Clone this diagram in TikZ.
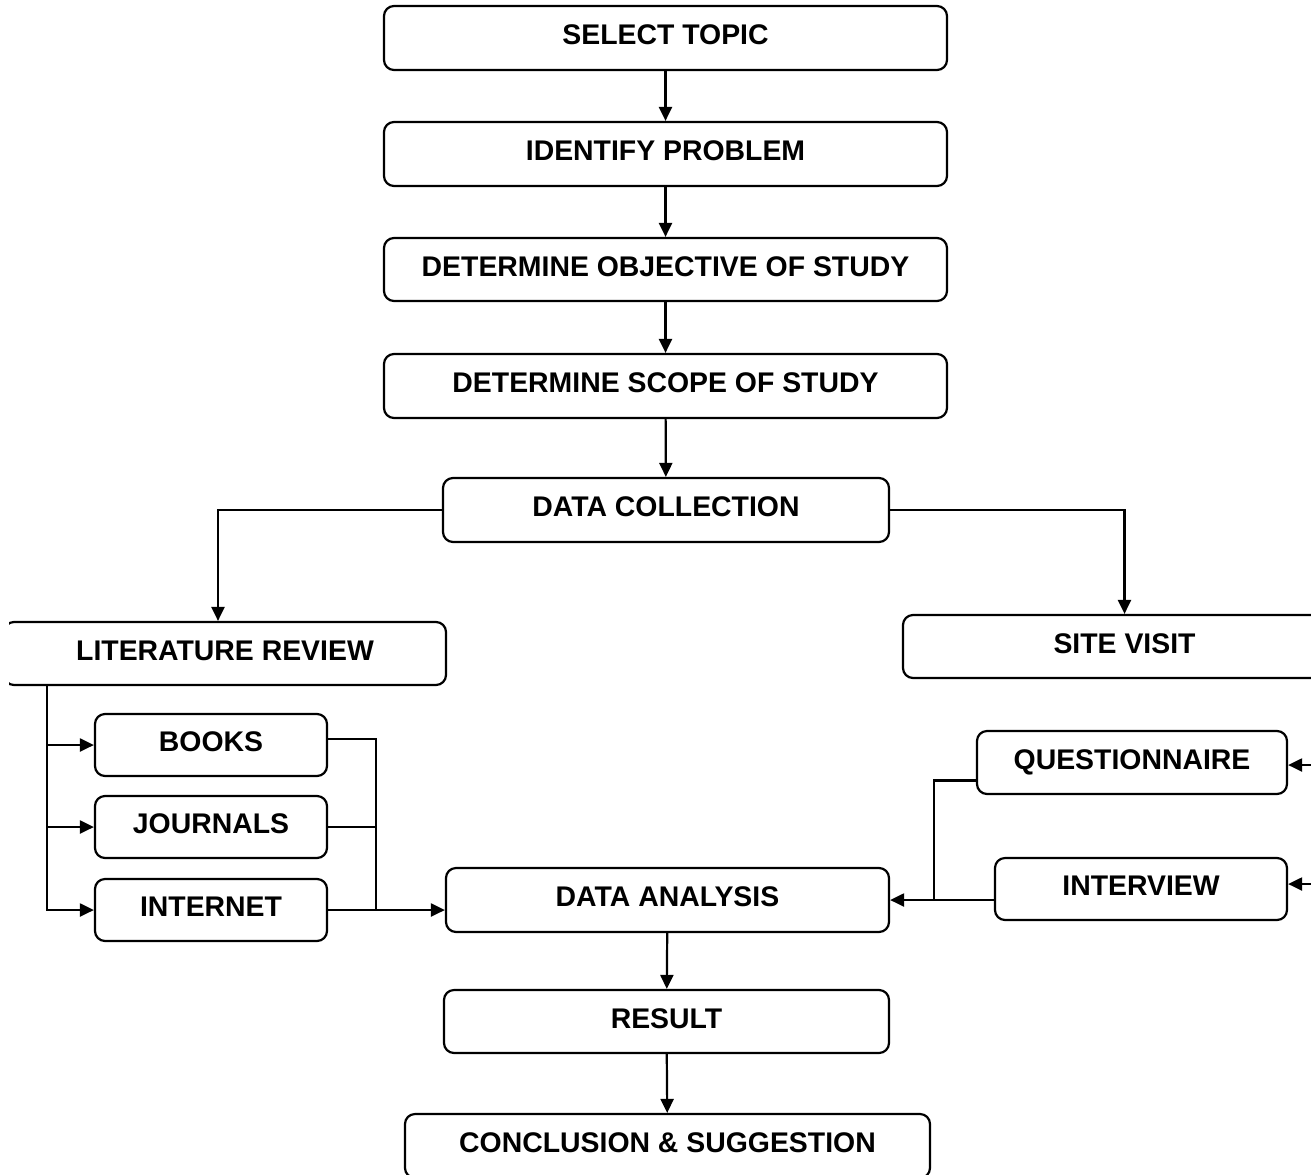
\documentclass[tikz,border=0pt]{standalone}
\usepackage{fontspec}
\setmainfont{Liberation Sans}
\usetikzlibrary{arrows.meta}
\tikzset{
  stage/.style={draw, rounded corners=5pt, line width=1.1pt, inner sep=0pt,
    font=\bfseries\fontsize{14.2}{17}\selectfont, text height=10.5pt, text depth=4pt},
  flow/.style={line width=1.1pt, -{Triangle[length=7pt,width=6.5pt]}},
  link/.style={line width=1.1pt}
}
\begin{document}
\begin{tikzpicture}[x=0.5pt,y=-0.5pt]
\useasboundingbox (0,0) rectangle (1311,1174) ;
\begin{scope}
\clip (9,0) rectangle (1311,1174) ;
 \node[stage, minimum width=281.5pt, minimum height=32pt] (topic)      at (665.5,  38) {SELECT TOPIC} ;
\node[stage, minimum width=281.5pt, minimum height=32pt] (problem)    at (665.5, 154) {IDENTIFY PROBLEM} ;
\node[stage, minimum width=281.5pt, minimum height=31.5pt] (objective) at (665.5, 269.5) {DETERMINE OBJECTIVE OF STUDY} ;
\node[stage, minimum width=281.5pt, minimum height=32pt] (scope)      at (665.5, 386) {DETERMINE SCOPE OF STUDY} ;
\node[stage, minimum width=223pt, minimum height=32pt] (collection)   at (666,   510) {DATA COLLECTION} ;
 \node[stage, minimum width=221pt, minimum height=31.5pt] (literature) at (225,  653.5) {LITERATURE REVIEW} ;
\node[stage, minimum width=221.5pt, minimum height=31.5pt] (sitevisit) at (1124.5, 646.5) {SITE VISIT} ;
 \node[stage, minimum width=116pt, minimum height=31pt] (books)        at (211,  745) {BOOKS} ;
\node[stage, minimum width=116pt, minimum height=31pt] (journals)     at (211,  827) {JOURNALS} ;
\node[stage, minimum width=116pt, minimum height=31pt] (internet)     at (211,  910) {INTERNET} ;
 \node[stage, minimum width=155pt, minimum height=31.5pt] (questionnaire) at (1132, 762.5) {QUESTIONNAIRE} ;
\node[stage, minimum width=146pt, minimum height=31pt] (interview)    at (1141, 889) {INTERVIEW} ;
 \node[stage, minimum width=221.5pt, minimum height=32pt] (analysis)  at (667.5, 900) {DATA ANALYSIS} ;
\node[stage, minimum width=222.5pt, minimum height=31.5pt] (result)   at (666.5, 1021.5) {RESULT} ;
\node[stage, minimum width=262.5pt, minimum height=32pt] (conclusion) at (667.5, 1146) {CONCLUSION \& SUGGESTION} ;
 \coordinate (littrunk) at (47, 685) ;
\coordinate (litmerge) at (376, 910) ;
\coordinate (sitemerge) at (934, 900) ;
\coordinate (questionin) at (1330, 765) ;
\coordinate (interviewin) at (1330, 884) ;
 \draw[flow] (topic) -- (problem) ;
\draw[flow] (problem) -- (objective) ;
\draw[flow] (objective) -- (scope) ;
\draw[flow] (scope) -- (collection) ;
\draw[flow] (collection.west) -| ([xshift=-3.5pt]literature.north) ;
\draw[flow] (collection.east) -| (sitevisit.north) ;
 \draw[flow] (littrunk) |- (books) ;
\draw[flow] (littrunk) |- (journals) ;
\draw[flow] (littrunk) |- (internet) ;
\draw[link] ([yshift=3pt]books.east) -| (litmerge) ;
\draw[link] (journals.east) -| (litmerge) ;
\draw[flow] (internet.east) -- (internet.east -| analysis.west) ;
 \draw[link] ([yshift=-9pt]questionnaire.west) -| (sitemerge) ;
\draw[flow] (interview.west |- analysis.east) -- (analysis.east) ;
\draw[flow] (questionin) -- (questionnaire.east |- questionin) ;
\draw[flow] (interviewin) -- (interview.east |- interviewin) ;
 \draw[flow] (analysis) -- (result) ;
\draw[flow] (result) -- (conclusion) ;
\end{scope}
\end{tikzpicture}
\end{document}
